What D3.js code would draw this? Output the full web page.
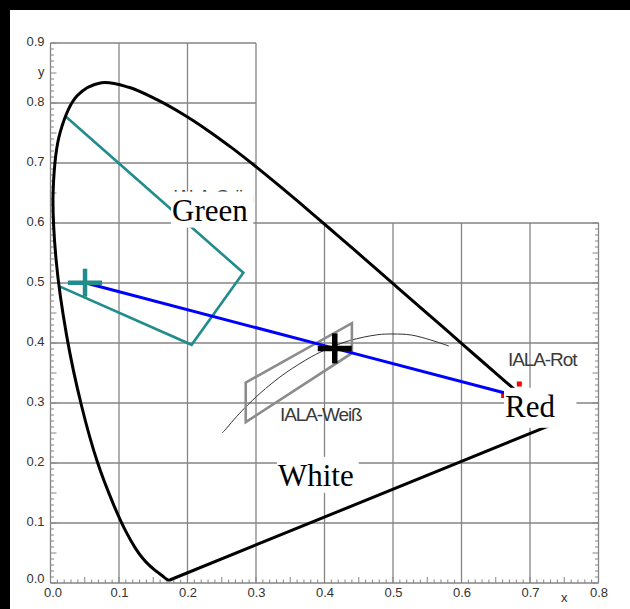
<!DOCTYPE html>
<html>
<head>
<meta charset="utf-8">
<script src="https://cdn.jsdelivr.net/npm/d3@7"></script>
<style>
  body { margin: 0; background: #fff; }
  svg { display: block; }
</style>
</head>
<body>
<div id="chart"></div>
<script>
// CIE chromaticity diagram with IALA signal colour regions

// axis ticks
const xTicks = [0.0, 0.1, 0.2, 0.3, 0.4, 0.5, 0.6, 0.7, 0.8];
const yTicks = [0.0, 0.1, 0.2, 0.3, 0.4, 0.5, 0.6, 0.7, 0.8, 0.9];

// spectral locus (x, y), 380 nm .. 700 nm
const spectralLocus = [
  [0.1741, 0.0050], [0.1738, 0.0049], [0.1733, 0.0048], [0.1726, 0.0048],
  [0.1714, 0.0051], [0.1703, 0.0058], [0.1689, 0.0069], [0.1669, 0.0086],
  [0.1644, 0.0109], [0.1611, 0.0138], [0.1566, 0.0177], [0.1510, 0.0227],
  [0.1440, 0.0297], [0.1355, 0.0399], [0.1241, 0.0578], [0.1096, 0.0868],
  [0.0913, 0.1327], [0.0687, 0.2007], [0.0454, 0.2950], [0.0235, 0.4127],
  [0.0082, 0.5384], [0.0039, 0.6548], [0.0139, 0.7502], [0.0389, 0.8120],
  [0.0743, 0.8338], [0.1142, 0.8262], [0.1547, 0.8059], [0.1929, 0.7816],
  [0.2296, 0.7543], [0.2658, 0.7243], [0.3016, 0.6923], [0.3373, 0.6589],
  [0.3731, 0.6245], [0.4087, 0.5896], [0.4441, 0.5547], [0.4788, 0.5202],
  [0.5125, 0.4866], [0.5448, 0.4544], [0.5752, 0.4242], [0.6029, 0.3965],
  [0.6270, 0.3725], [0.6482, 0.3514], [0.6658, 0.3340], [0.6801, 0.3197],
  [0.6915, 0.3083], [0.7006, 0.2993], [0.7079, 0.2920], [0.7140, 0.2859],
  [0.7190, 0.2809], [0.7230, 0.2770], [0.7260, 0.2740], [0.7300, 0.2700],
  [0.7347, 0.2653]
];

// black body (Planck) curve
const planckLocus = [
  [0.2505, 0.2500], [0.2565, 0.2571], [0.2637, 0.2671], [0.2807, 0.2884],
  [0.2952, 0.3048], [0.3064, 0.3166], [0.3221, 0.3318], [0.3451, 0.3516],
  [0.3805, 0.3768], [0.4053, 0.3907], [0.4369, 0.4041], [0.4770, 0.4137],
  [0.5000, 0.4150], [0.5267, 0.4133], [0.5550, 0.4050], [0.5815, 0.3950]
];

// IALA regions
const ialaGreen = [[0.0226, 0.777], [0.2815, 0.517], [0.206, 0.397], [0.0139, 0.494]];
const ialaWhite = [[0.285, 0.334], [0.440, 0.433], [0.440, 0.383], [0.285, 0.268]];
const ialaRed = [[0.6844, 0.3317], [0.6615, 0.3125]];

// measured light colours
const greenPoint = [0.0504, 0.5005];
const whitePoint = [0.4150, 0.3910];
const redPoint = [0.6635, 0.3166];

// label anchors (left end of text, baseline)
const ialaLabels = [
  { text: "IALA-Weiß", x: 0.335, y: 0.270 },
  { text: "IALA-Rot", x: 0.668, y: 0.362 },
  { text: "IALA-Grün", x: 0.179, y: 0.6335 }
];
const colourLabels = [
  { text: "Green", x: 0.1774, y: 0.604 },
  { text: "Red", x: 0.6635, y: 0.277 },
  { text: "White", x: 0.3320, y: 0.162 }
];

const width = 630, height = 609;
const xMax = 0.8, yMax = 0.9, cutX = 0.3, cutY = 0.6;

const svg = d3.select("#chart").append("svg")
  .attr("width", width)
  .attr("height", height);

const x = d3.scaleLinear().domain([0, xMax]).range([50.5, 598.5]);
const y = d3.scaleLinear().domain([0, yMax]).range([583, 43]);

const gridColor = "#858585";
const grid = svg.append("g").attr("class", "grid");

// vertical grid lines (stepped frame: above 0.6 only up to x = 0.3)
grid.selectAll("line.v")
  .data(xTicks)
  .enter().append("line")
  .attr("class", "v")
  .attr("x1", d => x(d)).attr("x2", d => x(d))
  .attr("y1", y(0))
  .attr("y2", d => y(d <= cutX + 1e-9 ? yMax : cutY))
  .attr("stroke", gridColor)
  .attr("stroke-width", 1.3);

grid.selectAll("line.h")
  .data(yTicks)
  .enter().append("line")
  .attr("class", "h")
  .attr("y1", d => y(d)).attr("y2", d => y(d))
  .attr("x1", x(0))
  .attr("x2", d => x(d <= cutY + 1e-9 ? xMax : cutX))
  .attr("stroke", gridColor)
  .attr("stroke-width", 1.3);

// minor ticks
const minorX = d3.range(0, 81).map(i => i / 100);
const minorY = d3.range(0, 91).map(i => i / 100);
const tickLen = d => (Math.round(d * 100) % 5 === 0 ? 6 : 3.5);

grid.selectAll("line.mx")
  .data(minorX)
  .enter().append("line")
  .attr("x1", d => x(d)).attr("x2", d => x(d))
  .attr("y1", y(0)).attr("y2", d => y(0) - tickLen(d))
  .attr("stroke", gridColor).attr("stroke-width", 1);

grid.selectAll("line.my")
  .data(minorY)
  .enter().append("line")
  .attr("y1", d => y(d)).attr("y2", d => y(d))
  .attr("x1", x(0)).attr("x2", d => x(0) + tickLen(d))
  .attr("stroke", gridColor).attr("stroke-width", 1);

grid.selectAll("line.mr")
  .data(minorY.filter(d => d <= cutY + 1e-9))
  .enter().append("line")
  .attr("y1", d => y(d)).attr("y2", d => y(d))
  .attr("x1", x(xMax)).attr("x2", d => x(xMax) - tickLen(d))
  .attr("stroke", gridColor).attr("stroke-width", 1);

// tick labels through d3 axes
const fmt = d3.format(".1f");
const xAxis = svg.append("g")
  .attr("transform", `translate(0,${y(0)})`)
  .call(d3.axisBottom(x).tickValues(xTicks).tickFormat(fmt).tickSize(0).tickPadding(5));
xAxis.select(".domain").remove();
xAxis.selectAll("text")
  .attr("x", d => d === 0 ? 2 : 0)
  .style("font-family", "'Liberation Sans', Arial, sans-serif")
  .style("font-size", "13px")
  .style("fill", "#333");

const yAxis = svg.append("g")
  .attr("transform", `translate(${x(0)},0)`)
  .call(d3.axisLeft(y).tickValues(yTicks).tickFormat(fmt).tickSize(0).tickPadding(6));
yAxis.select(".domain").remove();
yAxis.selectAll("text")
  .attr("dy", d => d === 0 ? "-0.05em" : "0.2em")
  .style("font-family", "'Liberation Sans', Arial, sans-serif")
  .style("font-size", "13px")
  .style("fill", "#333");

// axis titles
svg.append("text")
  .attr("x", x(0.75)).attr("y", y(0) + 19)
  .attr("text-anchor", "middle")
  .style("font-family", "'Liberation Sans', Arial, sans-serif")
  .style("font-size", "13px").style("fill", "#333")
  .text("x");
svg.append("text")
  .attr("x", x(0) - 6).attr("y", y(0.85) + 3)
  .attr("text-anchor", "end")
  .style("font-family", "'Liberation Sans', Arial, sans-serif")
  .style("font-size", "13px").style("fill", "#333")
  .text("y");

const line = d3.line().x(d => x(d[0])).y(d => y(d[1]));
const smooth = d3.line().x(d => x(d[0])).y(d => y(d[1])).curve(d3.curveCatmullRom);

// Planck curve
svg.append("path")
  .datum(planckLocus)
  .attr("d", smooth)
  .attr("fill", "none")
  .attr("stroke", "#333")
  .attr("stroke-width", 1);

// IALA white region
svg.append("path")
  .datum(ialaWhite)
  .attr("d", d => line(d) + "Z")
  .attr("fill", "none")
  .attr("stroke", "#8c8c8c")
  .attr("stroke-width", 2.6);

// IALA green boundary (closed by the spectral locus)
svg.append("path")
  .datum(ialaGreen)
  .attr("d", line)
  .attr("fill", "none")
  .attr("stroke", "#208c8c")
  .attr("stroke-width", 2.6);

// spectral locus + purple line
svg.append("path")
  .datum(spectralLocus)
  .attr("d", d => smooth(d) + "Z")
  .attr("fill", "none")
  .attr("stroke", "#000")
  .attr("stroke-width", 3)
  .attr("stroke-linejoin", "round");

// IALA red marks
svg.selectAll("rect.red")
  .data(ialaRed)
  .enter().append("rect")
  .attr("class", "red")
  .attr("x", d => x(d[0]) - 2.5)
  .attr("y", d => y(d[1]) - 2.5)
  .attr("width", 5).attr("height", 5)
  .attr("fill", "#f00");

// IALA labels
svg.selectAll("text.iala")
  .data(ialaLabels)
  .enter().append("text")
  .attr("class", "iala")
  .attr("x", d => x(d.x))
  .attr("y", d => y(d.y))
  .style("font-family", "'Liberation Sans', Arial, sans-serif")
  .style("font-size", "19px")
  .style("letter-spacing", "-1.1px")
  .style("fill", "#3a3a3a")
  .text(d => d.text);

// connecting line through the measured colours
svg.append("path")
  .datum([greenPoint, whitePoint, redPoint])
  .attr("d", line)
  .attr("fill", "none")
  .attr("stroke", "#0000ff")
  .attr("stroke-width", 3);

// crosses
function cross(p, half, halfV, colour, sw) {
  const g = svg.append("g");
  g.append("line")
    .attr("x1", x(p[0]) - half).attr("x2", x(p[0]) + half)
    .attr("y1", y(p[1])).attr("y2", y(p[1]))
    .attr("stroke", colour).attr("stroke-width", sw);
  g.append("line")
    .attr("x1", x(p[0])).attr("x2", x(p[0]))
    .attr("y1", y(p[1]) - halfV).attr("y2", y(p[1]) + halfV)
    .attr("stroke", colour).attr("stroke-width", sw);
}
cross(greenPoint, 17, 14, "#208c8c", 4.5);
cross(whitePoint, 17, 15, "#000", 5.5);

// colour name labels on white boxes (the Red box is a bit wider in the original)
const labelG = svg.selectAll("g.lab")
  .data(colourLabels)
  .enter().append("g")
  .attr("class", "lab");
const labelText = labelG.append("text")
  .attr("x", d => x(d.x))
  .attr("y", d => y(d.y))
  .style("font-family", "'Liberation Serif', 'Times New Roman', serif")
  .style("font-size", "31px")
  .style("fill", "#000")
  .text(d => d.text);
labelText.each(function(d) {
  const b = this.getBBox();
  const wide = d.text === "Red";
  d3.select(this.parentNode).insert("rect", "text")
    .attr("x", b.x - 1).attr("y", b.y - 1)
    .attr("width", b.width + (wide ? 22 : 6))
    .attr("height", b.height + (wide ? 5 : 1))
    .attr("fill", "#fff");
});

// thick black frame on top and left edges
svg.append("path")
  .attr("d", `M5,${height} V5 H${width}`)
  .attr("fill", "none")
  .attr("stroke", "#000")
  .attr("stroke-width", 10);
</script>
</body>
</html>
